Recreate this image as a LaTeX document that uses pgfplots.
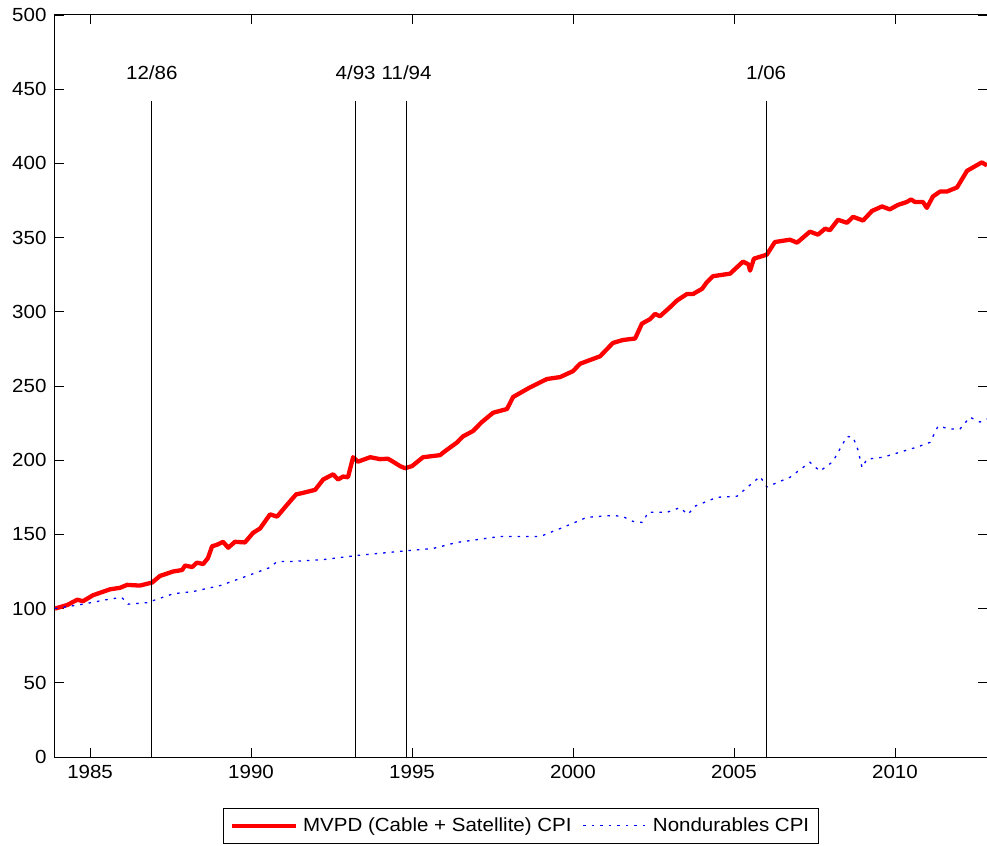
\documentclass[border=0pt]{standalone}
\usepackage{fontspec}
\setmainfont[FakeStretch=1.08]{Liberation Sans}
\usepackage{pgfplots}
\usepackage{pgfplotstable}
\pgfplotsset{compat=1.18}
\pgfplotstableread{
x y
1983.91 100
1984.30 102.5
1984.60 106
1984.78 105
1985.09 109
1985.62 113
1985.93 114
1986.15 116
1986.55 115.5
1986.93 117.6
1987.17 122
1987.58 125
1987.86 126
1987.95 129
1988.17 128
1988.32 131
1988.51 130
1988.66 134
1988.79 142
1988.94 143
1989.13 145
1989.29 141
1989.50 145
1989.81 144.6
1990.06 151
1990.28 154
1990.59 163.5
1990.81 162
1991.12 170
1991.40 177
1991.52 177.5
1991.99 180
1992.24 187
1992.55 190.5
1992.70 187
1992.86 189
1993.01 188.5
1993.17 202
1993.32 199
1993.70 202
1994.01 200.7
1994.25 201
1994.41 199
1994.63 196
1994.78 194.6
1995.00 196
1995.34 202
1995.87 203.4
1996.02 206
1996.40 212
1996.58 216
1996.89 219.6
1997.17 225.7
1997.52 232
1997.95 234.5
1998.14 242.6
1998.66 249
1999.19 254.7
1999.60 256
2000.00 260
2000.22 265
2000.84 270
2001.24 279
2001.55 281
2001.93 282
2002.14 292
2002.39 295
2002.55 298.6
2002.70 297
2003.01 303
2003.23 307.6
2003.54 312
2003.73 312
2004.01 315.5
2004.16 320
2004.35 324
2004.88 325.7
2005.28 333.8
2005.45 332
2005.50 327.7
2005.62 335.8
2006.02 338.5
2006.27 347
2006.74 348.6
2006.96 346.6
2007.36 354
2007.61 352
2007.83 356
2007.98 355
2008.23 362
2008.51 360
2008.70 364
2009.01 361.5
2009.29 368
2009.60 371
2009.84 369
2010.09 372
2010.37 374
2010.50 375.7
2010.62 374
2010.87 374
2010.99 370
2011.18 377.7
2011.40 381
2011.61 381
2011.93 383.8
2012.24 395
2012.70 400.7
2012.86 398.6
}\mvpd
\pgfplotstableread{
x y
1983.91 100
1984.78 103
1985.68 106.7
1985.99 107.4
1986.18 103
1986.77 104
1987.58 110
1988.20 111.5
1989.04 115.5
1989.75 121
1990.59 127.7
1990.81 131.8
1991.30 131.8
1992.24 133
1993.29 135.8
1994.84 139
1995.65 140.5
1996.40 144.6
1997.73 148.6
1998.98 148.6
1999.69 154.7
2000.43 161.5
2001.24 162.8
2001.55 162
2001.86 158.8
2002.17 158
2002.33 164.9
2002.92 164.9
2003.32 168
2003.57 163.5
2003.79 169
2004.47 175
2005.09 175.7
2005.81 189
2006.02 182
2006.74 188.5
2007.36 198.6
2007.67 192.6
2008.07 199
2008.51 216
2008.70 215.5
2008.85 207
2008.98 195
2009.13 200.7
2009.63 202
2010.16 205.4
2010.68 208.8
2011.09 212
2011.34 223
2011.71 221
2012.02 221
2012.33 229
2012.64 225.7
2012.86 227.7
}\nondur
\begin{document}
\fontsize{19bp}{22bp}\selectfont
\begin{tikzpicture}
\begin{axis}[
  at={(0,0)}, anchor=south west,
  scale only axis, width=932bp, height=742bp,
  xmin=1983.91, xmax=2012.86, ymin=0, ymax=500,
  xtick={1985,1990,...,2010}, ytick={0,50,...,500},
  tick align=inside, major tick length=9bp,
  axis line style={line width=1bp},
  every tick/.style={black, line width=0.8bp},
  /pgf/number format/1000 sep={},
  /pgf/number format/assume math mode=true,
  tick label style={font=\fontsize{19bp}{22bp}\selectfont},
  xticklabel style={yshift=-2bp},
  yticklabel style={xshift=-2bp},
  legend style={at={(0.5,-0.0687)}, anchor=north, legend columns=2,
    draw=black, line width=0.8bp, font=\fontsize{19bp}{22bp}\selectfont,
    inner xsep=6bp, inner ysep=6bp,
    nodes={inner sep=3bp},
    /tikz/every odd column/.append style={column sep=2bp},
    /tikz/every even column/.append style={column sep=8bp}},
  legend image code/.code={\draw[#1] (0bp,0bp) -- (64bp,0bp);},
]
\addplot[red, line width=4.3bp, line join=round] table {\mvpd};
\addlegendentry{MVPD (Cable + Satellite) CPI}
\addplot[blue, line width=1.3bp, dash pattern=on 2.5bp off 6bp] table {\nondur};
\addlegendentry{Nondurables CPI}
\addplot[black, line width=0.8bp, forget plot] coordinates {(1986.917,0) (1986.917,442)};
\addplot[black, line width=0.8bp, forget plot] coordinates {(1993.25,0) (1993.25,442)};
\addplot[black, line width=0.8bp, forget plot] coordinates {(1994.833,0) (1994.833,442)};
\addplot[black, line width=0.8bp, forget plot] coordinates {(2006.0,0) (2006.0,442)};
\node at (axis cs:1986.917,461) {12/86};
\node at (axis cs:1993.25,461) {4/93};
\node at (axis cs:1994.833,461) {11/94};
\node at (axis cs:2006.0,461) {1/06};
\end{axis}
\pgfresetboundingbox
\path[use as bounding box] (-55bp,-89bp) rectangle (932bp,757bp);
\end{tikzpicture}
\end{document}
